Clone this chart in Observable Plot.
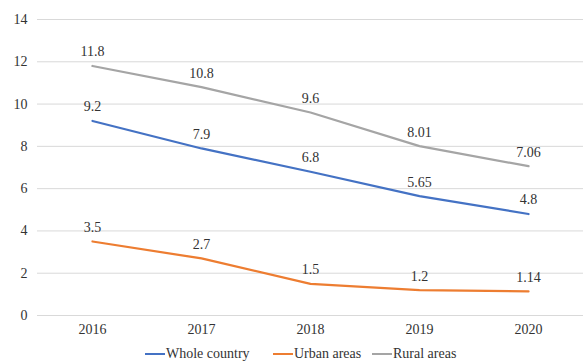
<!DOCTYPE html>
<html>
<head>
<meta charset="utf-8">
<script src="https://cdn.jsdelivr.net/npm/d3@7"></script>
<script src="https://cdn.jsdelivr.net/npm/@observablehq/plot@0.6"></script>
</head>
<body style="margin:0;padding:0;background:#fff;width:583px;height:361px;overflow:hidden;font-family:'Liberation Serif'">
<div id="chart"></div>
<div id="legend" style="position:relative;height:19px;font-size:14px;color:#333;font-family:'Liberation Serif'"></div>
<script>
const years = ["2016", "2017", "2018", "2019", "2020"];
const seriesNames = ["Whole country", "Urban areas", "Rural areas"];
const wholeCountry = [9.2, 7.9, 6.8, 5.65, 4.8];
const urbanAreas = [3.5, 2.7, 1.5, 1.2, 1.14];
const ruralAreas = [11.8, 10.8, 9.6, 8.01, 7.06];
const labelsWhole = ["9.2", "7.9", "6.8", "5.65", "4.8"];
const labelsUrban = ["3.5", "2.7", "1.5", "1.2", "1.14"];
const labelsRural = ["11.8", "10.8", "9.6", "8.01", "7.06"];
const yTicks = [0, 2, 4, 6, 8, 10, 12, 14];
const colors = ["#4472C4", "#ED7D31", "#A5A5A5"];

const values = [wholeCountry, urbanAreas, ruralAreas];
const labels = [labelsWhole, labelsUrban, labelsRural];
const data = [];
seriesNames.forEach((s, i) => years.forEach((y, j) => data.push({series: s, year: y, value: values[i][j], label: labels[i][j]})));

const plot = Plot.plot({
  width: 583,
  height: 342,
  marginLeft: 37,
  marginRight: 0,
  marginTop: 19,
  marginBottom: 27,
  style: {fontFamily: "Liberation Serif", fontSize: "14px", color: "#333", background: "#fff"},
  x: {type: "point", domain: years, padding: 0.5, label: null},
  y: {domain: [0, 14], ticks: yTicks, label: null},
  color: {domain: seriesNames, range: colors},
  marks: [
    Plot.gridY(yTicks, {stroke: "#d9d9d9", strokeOpacity: 1, strokeWidth: 1}),
    Plot.axisY(yTicks, {tickSize: 0, tickPadding: 10, fontSize: 14, label: null}),
    Plot.axisX({tickSize: 0, tickPadding: 9, fontSize: 14, label: null}),
    Plot.line(data, {x: "year", y: "value", z: "series", stroke: "series", strokeWidth: 2.25}),
    Plot.text(data, {x: "year", y: "value", text: "label", dy: -14, fontSize: 14, fill: "#333"})
  ]
});
document.getElementById("chart").appendChild(plot);

const legend = document.getElementById("legend");
const lefts = [145, 273, 372];
seriesNames.forEach((s, i) => {
  const d = document.createElement("div");
  d.style.cssText = `position:absolute;top:4px;left:${lefts[i]}px;white-space:nowrap;line-height:16px;font-size:14px;color:#333`;
  const sw = document.createElement("span");
  sw.style.cssText = `display:inline-block;width:20px;height:2.5px;vertical-align:middle;margin-right:1px;position:relative;top:-1px;background:${colors[i]}`;
  d.appendChild(sw);
  d.appendChild(document.createTextNode(s));
  legend.appendChild(d);
});
</script>
</body>
</html>
